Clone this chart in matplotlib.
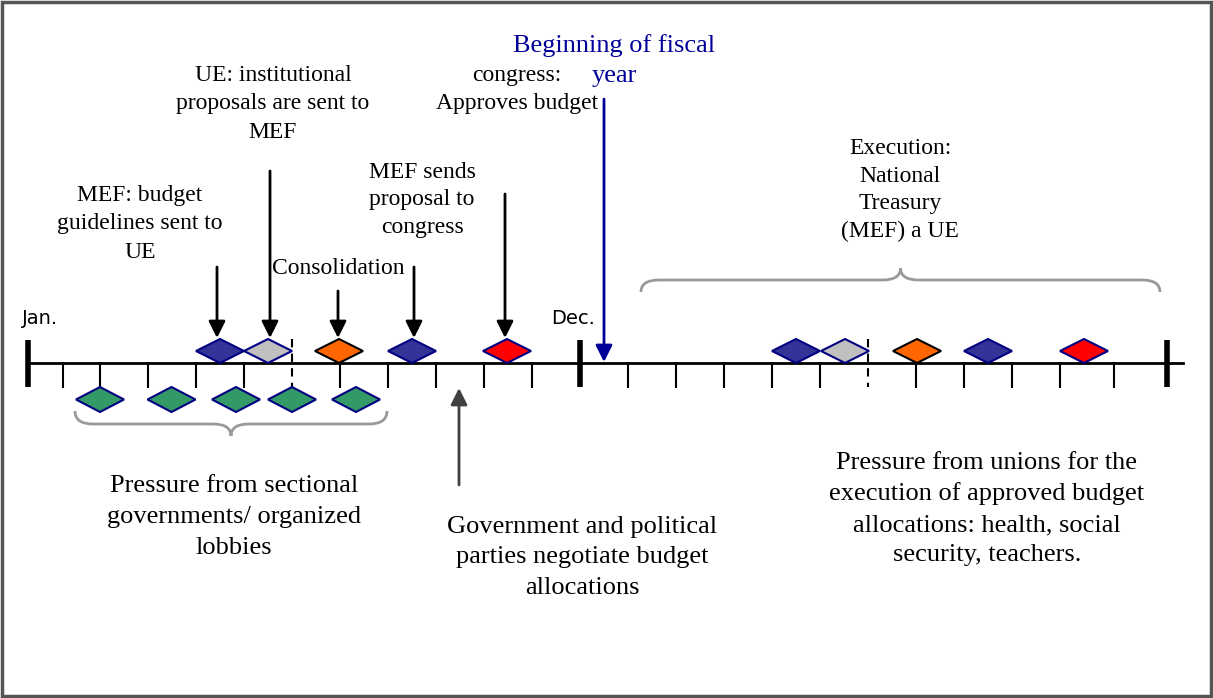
import matplotlib.pyplot as plt
from matplotlib.patches import Polygon, Rectangle, PathPatch
from matplotlib.path import Path

# Layout is in pixel units of the original diagram (y grows downwards)
W, H = 1213, 698
LINE_Y = 363

# Month tick positions along the two-year timeline
year1_ticks = [28, 63, 100, 148, 196, 244, 292, 340, 388, 436, 484, 532, 580]
year2_ticks = [580, 628, 676, 724, 772, 820, 868, 916, 964, 1012, 1060, 1114, 1167]
big_ticks = [28, 580, 1167]
dashed_ticks = [292, 868]

# Diamonds above the timeline
top_kinds = ['blue', 'gray', 'orange', 'blue', 'red',
             'blue', 'gray', 'orange', 'blue', 'red']
top_x = [220, 268, 339, 412, 507, 796, 845, 917, 988, 1084]
# Diamonds below the timeline (lobby pressure)
green_x = [100, 171.5, 236, 292, 356]

fill = {'blue': '#333399', 'gray': '#C0C0C0', 'orange': '#FF6600',
        'red': '#FF0000', 'green': '#339966'}
edge = {'blue': '#000080', 'gray': '#000080', 'orange': '#000000',
        'red': '#000080', 'green': '#000080'}

# Black event arrows (x, top of shaft)
arrow_x = [217, 270, 338, 414, 505]
arrow_top = [267, 171, 291, 267, 194]

# text, x, y, size, colour, line spacing
labels = [
    ("MEF: budget\nguidelines sent to\nUE", 140, 224, 17, 'black', 1.48),
    ("UE: institutional\nproposals are sent to\nMEF", 273, 104, 17, 'black', 1.48),
    ("Consolidation", 338, 268, 17, 'black', 1.48),
    ("MEF sends\nproposal to\ncongress", 422, 200, 17, 'black', 1.42),
    ("congress:", 517, 75, 17, 'black', 1.0),
    ("Approves budget", 517, 104, 17, 'black', 1.0),
    ("Beginning of fiscal", 614, 46, 19, '#000099', 1.0),
    ("year", 614, 76, 19, '#000099', 1.0),
    ("Execution:\nNational\nTreasury\n(MEF) a UE", 900, 190, 17, 'black', 1.42),
    ("Pressure from sectional\ngovernments/ organized\nlobbies", 234, 517, 19, 'black', 1.5),
    ("Government and political\nparties negotiate budget\nallocations", 582, 557, 19, 'black', 1.5),
    ("Pressure from unions for the\nexecution of approved budget\n"
     "allocations: health, social\nsecurity, teachers.", 987, 509, 19, 'black', 1.5),
]

plt.rcParams['font.family'] = ['Liberation Serif', 'DejaVu Serif']

fig = plt.figure(figsize=(W / 100, H / 100), dpi=100)
ax = fig.add_axes([0, 0, 1, 1])
ax.set_xlim(0, W)
ax.set_ylim(H, 0)
ax.axis('off')

# outer frame
ax.add_patch(Rectangle((2, 2), W - 4, H - 4, fill=False, ec='#555555', lw=2.5))

# timeline
ax.plot([28, 1183], [LINE_Y, LINE_Y], color='black', lw=2)
for x in sorted(set(year1_ticks + year2_ticks)):
    if x in big_ticks:
        ax.plot([x, x], [340, 387], color='black', lw=4, solid_capstyle='butt')
    elif x in dashed_ticks:
        ax.plot([x, x], [339, 387], color='black', lw=1.5, ls=(0, (4, 3)))
    else:
        ax.plot([x, x], [LINE_Y, 387], color='black', lw=1.5)


def diamond(cx, cy, kind, hw=24, hh=12):
    ax.add_patch(Polygon([(cx - hw, cy), (cx, cy - hh), (cx + hw, cy), (cx, cy + hh)],
                         closed=True, fc=fill[kind], ec=edge[kind], lw=1.5, zorder=3))


for k, x in zip(top_kinds, top_x):
    diamond(x, 351, k)
for x in green_x:
    diamond(x, 399.5, 'green', hh=12.5)

# arrows
for x, top in zip(arrow_x, arrow_top):
    ax.annotate('', xy=(x, 338), xytext=(x, top),
                arrowprops=dict(arrowstyle='-|>', color='black', lw=2,
                                mutation_scale=25, shrinkA=0, shrinkB=0))
ax.annotate('', xy=(604, 362), xytext=(604, 99),
            arrowprops=dict(arrowstyle='-|>', color='#000099', lw=2,
                            mutation_scale=25, shrinkA=0, shrinkB=0))
ax.annotate('', xy=(459, 388), xytext=(459, 485),
            arrowprops=dict(arrowstyle='-|>', color='#404040', lw=2,
                            mutation_scale=25, shrinkA=0, shrinkB=0))


def brace(x0, x1, y_end, y_mid, y_tip, r=18):
    xc = (x0 + x1) / 2
    verts = [(x0, y_end), (x0, y_mid), (x0 + r, y_mid),
             (xc - r, y_mid), (xc, y_mid), (xc, y_tip),
             (xc, y_mid), (xc + r, y_mid),
             (x1 - r, y_mid), (x1, y_mid), (x1, y_end)]
    codes = [Path.MOVETO, Path.CURVE3, Path.CURVE3,
             Path.LINETO, Path.CURVE3, Path.CURVE3,
             Path.CURVE3, Path.CURVE3,
             Path.LINETO, Path.CURVE3, Path.CURVE3]
    ax.add_patch(PathPatch(Path(verts, codes), fill=False, ec='#999999', lw=2))


brace(75, 387, 411, 424, 436)
brace(641, 1160, 292, 280, 268)

# month labels
ax.text(22, 318, "Jan.", family='DejaVu Sans', fontsize=14, va='center', ha='left')
ax.text(551, 318, "Dec.", family='DejaVu Sans', fontsize=14, va='center', ha='left')

for txt, x, y, size, col, ls in labels:
    ax.text(x, y, txt, fontsize=size, color=col, ha='center', va='center',
            multialignment='center', linespacing=ls)

fig.savefig('out.png', dpi=100)
